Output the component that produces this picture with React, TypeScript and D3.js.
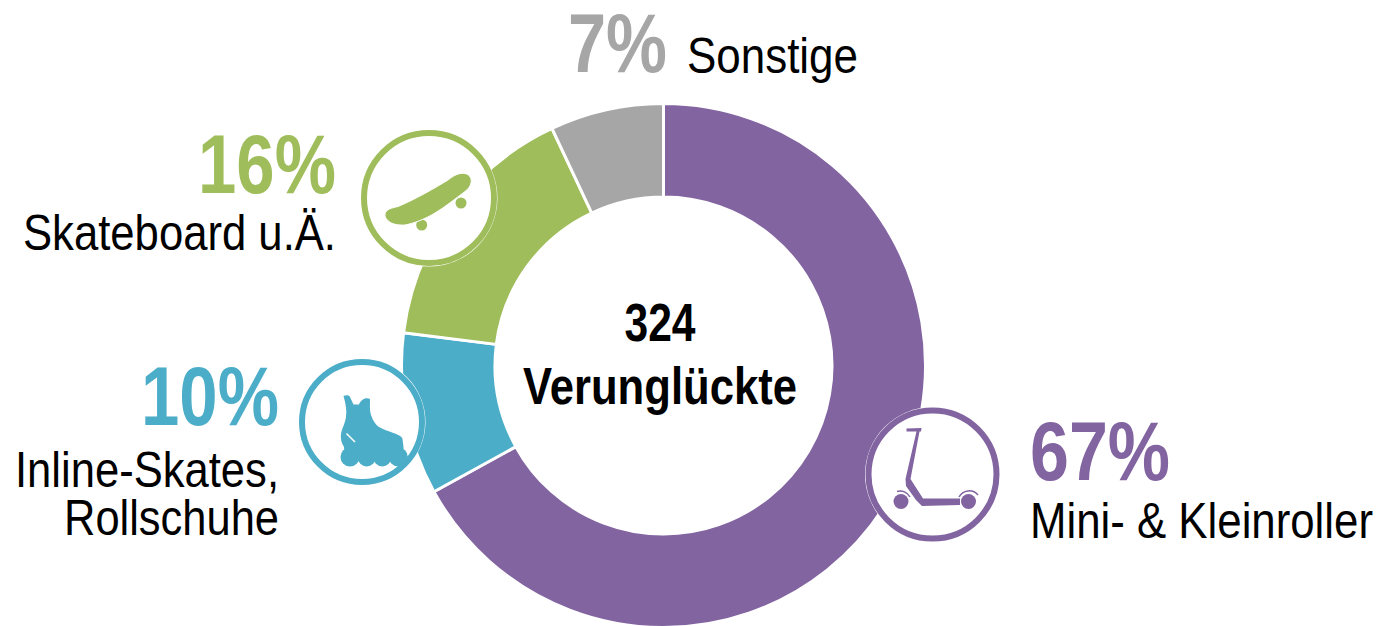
import React from "react";
import * as d3 from "d3";

const categories = ["Mini- & Kleinroller", "Inline-Skates, Rollschuhe", "Skateboard u.Ä.", "Sonstige"];
const shares = [67, 10, 16, 7];
const colors = ["#8264A1", "#4BADC8", "#9FBD5B", "#A6A6A6"];
const centerLines = ["324", "Verunglückte"];

const W = 1379, H = 626;
const cx = 663.5, cy = 365.5, R = 262, r = 168.5;
const FF = "'Liberation Sans', Arial, sans-serif";

function T({ x, y, size, w, fill = "#000", weight = 400, anchor = "start", children }: any) {
  return (
    <text x={x} y={y} fontSize={size} fontFamily={FF} fontWeight={weight} fill={fill} textAnchor={anchor}
      textLength={w} lengthAdjust="spacingAndGlyphs">{children}</text>
  );
}

function Badge({ x, y, rad, color, children }: any) {
  return (
    <g>
      <circle cx={x} cy={y} r={rad + 3.5} fill="#fff" />
      <circle cx={x} cy={y} r={rad} fill="#fff" stroke={color} strokeWidth={6} />
      {children}
    </g>
  );
}

export default function App() {
  const pie = d3.pie<number>().sort(null).value(d => d)(shares);
  const arc = d3.arc<d3.PieArcDatum<number>>().innerRadius(r).outerRadius(R);
  return (
    <svg width={W} height={H} viewBox={`0 0 ${W} ${H}`} style={{ position: "absolute", left: 0, top: 0, display: "block" }}>
      <g transform={`translate(${cx},${cy})`}>
        {pie.map((p, i) => (
          <path key={i} d={arc(p) as string} fill={colors[i]} stroke="#fff" strokeWidth={3} />
        ))}
      </g>

      <T x={660} y={341} size={54} w={71} weight={700} anchor="middle">{centerLines[0]}</T>
      <T x={660} y={404} size={52} w={274} weight={700} anchor="middle">{centerLines[1]}</T>

      <T x={568} y={72} size={84} w={99} weight={700} fill={colors[3]}>{shares[3]}%</T>
      <T x={687} y={73} size={50} w={171}>{categories[3]}</T>

      <T x={198} y={193} size={84} w={138} weight={700} fill={colors[2]}>{shares[2]}%</T>
      <T x={23} y={250} size={50} w={313}>{categories[2]}</T>

      <T x={141} y={425} size={84} w={138} weight={700} fill={colors[1]}>{shares[1]}%</T>
      <T x={15} y={487} size={50} w={264}>Inline-Skates,</T>
      <T x={64} y={535} size={50} w={215}>Rollschuhe</T>

      <T x={1030} y={480} size={84} w={140} weight={700} fill={colors[0]}>{shares[0]}%</T>
      <T x={1030} y={538} size={50} w={343}>{categories[0]}</T>

      <Badge x={932.5} y={474.5} rad={64} color={colors[0]}>
        <g fill={colors[0]}>
          <path d="M906.5 428.5 L921.5 428 L921 431.5 L919.5 431.5 L910.5 479 L923 498.5 L960 498.5 L960 505 L922 506 L916 500 L906 486 L905.5 479 L916.5 431.5 L906.5 431.5 Z" />
          <circle cx="901" cy="501.5" r="7.5" />
          <circle cx="968.5" cy="501.5" r="7.5" />
        </g>
        <path d="M897 491.5 A11 11 0 0 1 910 497 M959 497 A11.5 11.5 0 0 1 978 495" fill="none" stroke={colors[0]} strokeWidth={1.5} />
      </Badge>

      <Badge x={362} y={422} rad={60} color={colors[1]}>
        <g fill={colors[1]}>
          <path d="M343.5 396 C346 394.5 349.5 395 350 397 L353.5 404.5 L359 404.5 C361 400 365 397 370 399 C370 405 369.5 411 371 415 C373 421 376 425 379 427 C384 430 391 432 395 433.5 C399 435 402 436.5 402.5 439 L403.5 447 L403.5 458 L345 458 L344 447 C341 442 340.5 438 341 434 C342 428 345 424 346 417 C347 410 345.5 403 343.5 396 Z" />
          <circle cx="350" cy="457" r="9.5" />
          <circle cx="366.7" cy="457.5" r="9" />
          <circle cx="382.3" cy="457.5" r="9" />
          <circle cx="398.3" cy="457" r="9.5" />
        </g>
        <path d="M346.5 433.5 L355 442" stroke="#fff" strokeWidth={1.5} fill="none" />
      </Badge>

      <Badge x={429} y={198} rad={65} color={colors[2]}>
        <g fill={colors[2]}>
          <circle cx="421.7" cy="225" r="5.5" />
          <circle cx="461" cy="203" r="5.5" />
          <path stroke="#fff" strokeWidth={1} d="M385 214 C386 209 392 208 398 206.5 C414 200 435 188 448 180 C454 175 460 172.5 465 173.5 C470 174.5 472 179 471 183 C470 187 468 189 465 191.5 C455 199 445 207 435 213 C425 219 415 223 405 225 C398 225.5 392 224 389 221.5 C386 219 384.5 217 385 214 Z" />
        </g>
      </Badge>
    </svg>
  );
}
